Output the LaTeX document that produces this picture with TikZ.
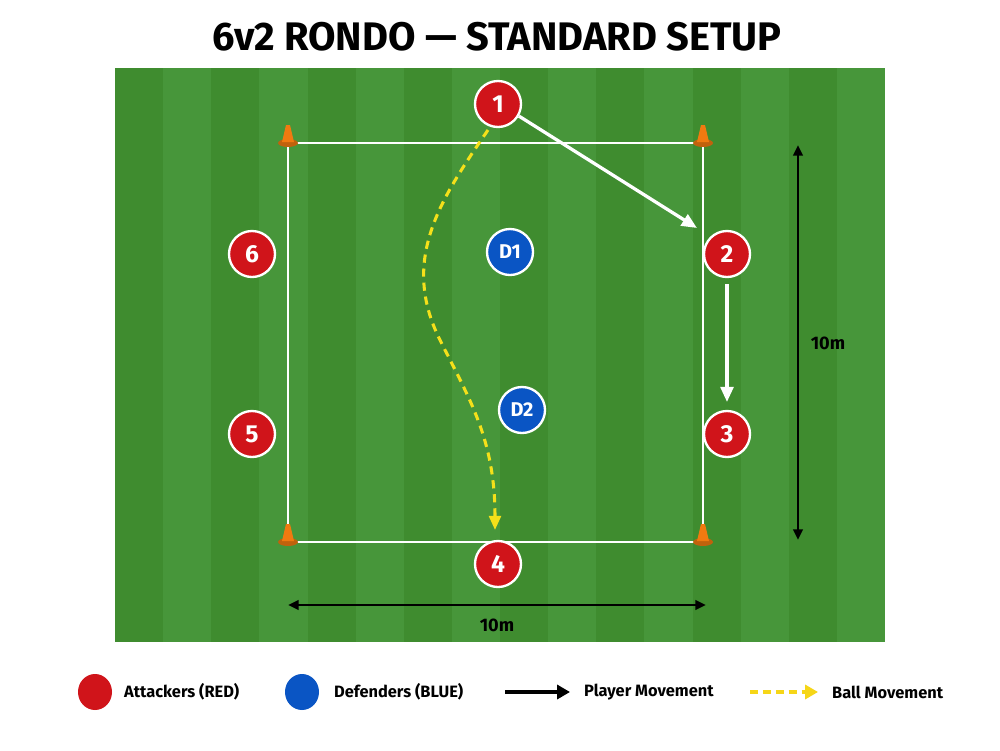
\documentclass[tikz,border=0pt]{standalone}
\usepackage{fontspec}
\setmainfont{Fira Sans}
\usetikzlibrary{arrows.meta}
\definecolor{grA}{HTML}{3F8C2F}
\definecolor{grB}{HTML}{47963A}
\definecolor{pred}{HTML}{D0141A}
\definecolor{pblue}{HTML}{0A55C4}
\definecolor{cone}{HTML}{F07A10}
\definecolor{ball}{HTML}{F5E01A}
\begin{document}
\begin{tikzpicture}[x=0.03cm,y=-0.03cm,
 att/.style={circle,fill=pred,draw=white,line width=2pt,minimum size=46*0.03cm,inner sep=0pt,text=white,font=\fontsize{21}{21}\selectfont\bfseries},
 def/.style={att,fill=pblue,font=\fontsize{17}{17}\selectfont\bfseries},
 mv/.style={white,line width=2.8pt,-{Triangle[length=13pt,width=11pt]}},
 bl/.style={ball,line width=2.6pt,dash pattern=on 7pt off 5pt,-{Triangle[length=12pt,width=10pt]}},
 dim/.style={black,line width=2.2pt,{Triangle[length=9pt,width=8pt]}-{Triangle[length=9pt,width=8pt]}},
 lab/.style={font=\fontsize{15.5}{15.5}\selectfont\bfseries},
 leg/.style={anchor=west,font=\fontsize{14}{14}\selectfont\bfseries}]
\useasboundingbox (0,0) rectangle (1000,750);
\fill[white] (0,0) rectangle (1000,750);
\node[font=\fontsize{34}{34}\selectfont\bfseries] (title) at (497,37) {6v2 RONDO — STANDARD SETUP};
\fill[grA] (115,68) rectangle (885,642);
\foreach \i in {1,3,...,15} \fill[grB] (115+\i*48.125,68) rectangle (115+\i*48.125+48.125,642);
\draw[white,line width=2.2pt] (288,143) rectangle (703,542);
\foreach \p/\q in {288/143,703/143,288/542,703/542}{
 \fill[cone!80!black] (\p,\q) ellipse (10 and 4);
 \fill[cone] (\p-6,\q-1) -- (\p-2,\q-18) -- (\p+2,\q-18) -- (\p+6,\q-1) -- cycle;}
\node[att] (p1) at (498,104) {1};
\node[att] (p2) at (727,254) {2};
\node[att] (p3) at (727,434) {3};
\node[att] (p4) at (498,564) {4};
\node[att] (p5) at (252,434) {5};
\node[att] (p6) at (252,254) {6};
\node[def] (d1) at (510,252) {D1};
\node[def] (d2) at (522,410) {D2};
\coordinate (t1) at (697,228);
\draw[mv] (p1.-30) -- (t1);
\draw[mv] (727,284) -- (727,402);
\coordinate (b4) at (495,530);
\draw[bl] (488,130) .. controls (440,200) and (400,260) .. (440,340) .. controls (470,400) and (495,440) .. (b4);
\draw[dim] (798,145) -- (798,540);
\node[lab] (l1) at (828,343) {10m};
\draw[dim] (288,605) -- (706,605);
\node[lab] (l2) at (497,625) {10m};
\fill[pred] (95,692) ellipse (17 and 18);
\node[leg] (la) at (120,692) {Attackers (RED)};
\fill[pblue] (302,692) ellipse (17 and 18);
\node[leg] (lb) at (330,692) {Defenders (BLUE)};
\coordinate (a1) at (505,692); \coordinate (a2) at (570,692);
\draw[black,line width=2.6pt,-{Triangle[length=11pt,width=12pt]}] (a1) -- (a2);
\node[leg] (lc) at (580,692) {Player Movement};
\coordinate (c1) at (750,692); \coordinate (c2) at (818,692);
\draw[ball!90!orange,line width=2.6pt,dash pattern=on 7pt off 4pt,-{Triangle[length=11pt,width=12pt]}] (c1) -- (c2);
\node[leg] (ld) at (828,692) {Ball Movement};
\end{tikzpicture}
\end{document}
